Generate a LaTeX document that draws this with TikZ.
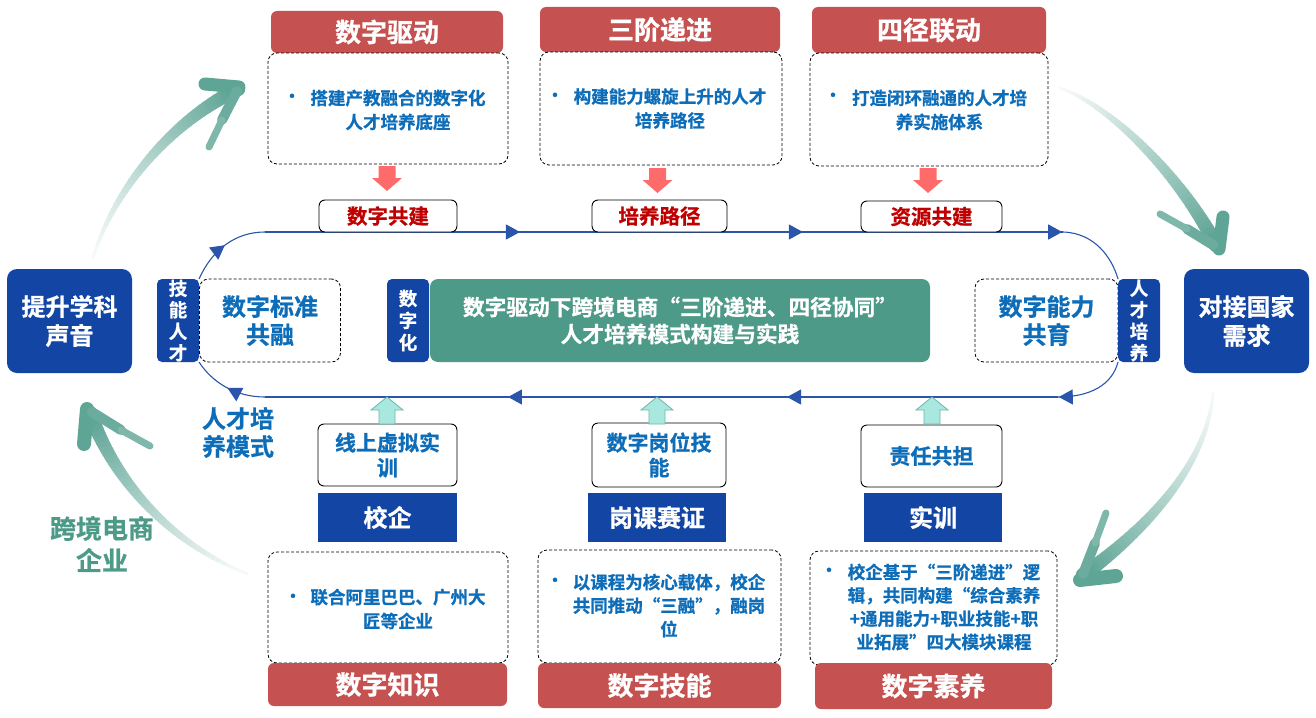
\documentclass[tikz,border=0pt]{standalone}
\usepackage{fontspec}
\setmainfont{Noto Sans CJK SC}[BoldFont={Noto Sans CJK SC Bold},BoldFeatures={FakeBold=0.8}]
\usetikzlibrary{arrows.meta,decorations.markings}
\definecolor{redh}{HTML}{C55250}
\definecolor{blueb}{HTML}{1346A4}
\definecolor{greenb}{HTML}{4E9A88}
\definecolor{txtblue}{HTML}{0E6DB8}
\definecolor{darkred}{HTML}{C00000}
\definecolor{salmon}{HTML}{FF6B6B}
\definecolor{cyanf}{HTML}{A8E8DE}
\definecolor{cyand}{HTML}{6DB7A6}
\definecolor{lineblue}{HTML}{2A55AA}
\definecolor{arrowg}{HTML}{5FA596}
\newcommand\gradshaft[4]{%
  \foreach \gi in {0,...,39}{%
    \pgfmathsetmacro\gta{\gi/40}%
    \pgfmathsetmacro\gtb{(\gi+1)/40}%
    \pgfmathsetmacro\gpc{6+94*(\gi/39)^1.3}%
    \pgfmathsetmacro\glw{2.5+12*\gi/39}%
    \path #1 .. controls #2 and #3 .. #4 coordinate[pos=\gta] (ga) coordinate[pos=\gtb] (gb);%
    \draw[line width=\glw pt, color=arrowg!\gpc!white, line cap=round] (ga) -- (gb);%
  }}
\tikzset{
  downarr/.pic={\fill[salmon] (-8.5,0) -- (8.5,0) -- (8.5,12) -- (15,12) -- (0,25) -- (-15,12) -- (-8.5,12) -- cycle;},
  uparr/.pic={\filldraw[fill=cyanf, draw=cyand, line width=0.8pt] (0,0) -- (16,13) -- (8,13) -- (8,27) -- (-8,27) -- (-8,13) -- (-16,13) -- cycle;}
}
\newcommand\ahd{\arrow[fill=lineblue]{Triangle[length=14pt,width=15pt]}}
\begin{document}
\begin{tikzpicture}[x=1pt,y=-1pt,
  every node/.style={inner sep=0pt, outer sep=0pt},
  header/.style={fill=redh, rounded corners=6pt, text=white, font=\bfseries\fontsize{26}{30}\selectfont},
  dbox/.style={draw=black, dash pattern=on 3pt off 2pt, rounded corners=9pt, line width=0.8pt},
  sbox/.style={draw=black, fill=white, rounded corners=6pt, line width=0.9pt},
  btext/.style={text=txtblue, font=\bfseries\fontsize{17.5}{24}\selectfont, align=center},
  bul/.style={text=txtblue, font=\bfseries\fontsize{17}{17}\selectfont},
  redlbl/.style={text=darkred, font=\bfseries\fontsize{20.5}{24}\selectfont},
  bluelbl/.style={text=txtblue, font=\bfseries\fontsize{21}{25}\selectfont, align=center},
  vbox/.style={fill=blueb, rounded corners=5pt, text=white, minimum width=42, minimum height=83, align=center, font=\bfseries\fontsize{18.5}{21.5}\selectfont},
  bigbox/.style={fill=blueb, rounded corners=10pt, text=white, minimum width=125, minimum height=104, align=center, font=\bfseries\fontsize{24}{29}\selectfont},
  brect/.style={fill=blueb, text=white, minimum width=139, minimum height=49, font=\bfseries\fontsize{24}{28}\selectfont},
  midlbl/.style={text=txtblue, font=\bfseries\fontsize{24}{28}\selectfont, align=center},
  loop/.style={draw=lineblue, line width=1.1pt}
]
\useasboundingbox (0,0) rectangle (1316,717);

% ---- big gradient arrows ----
\gradshaft{(93,258)}{(112,195)}{(165,125)}{(238,89)}
\draw[line width=13pt, line cap=round, arrowg] (205,84) -- (239,87);
\draw[line width=10pt, line cap=round, arrowg!92!white] (237,91) -- (222,120);
\draw[line width=7pt, line cap=round, arrowg!80!white] (222,120) -- (209,147);

\gradshaft{(1060,88)}{(1110,105)}{(1180,175)}{(1216,245)}
\draw[line width=13pt, line cap=round, arrowg] (1223,217) -- (1219,249);
\draw[line width=10pt, line cap=round, arrowg!92!white] (1213,245) -- (1187,229);
\draw[line width=7pt, line cap=round, arrowg!80!white] (1187,229) -- (1160,214);

\gradshaft{(1213,392)}{(1208,465)}{(1145,530)}{(1083,575)}
\draw[line width=14pt, line cap=round, arrowg] (1080,580) -- (1116,576);
\draw[line width=10pt, line cap=round, arrowg!92!white] (1083,574) -- (1095,543);
\draw[line width=7pt, line cap=round, arrowg!80!white] (1095,543) -- (1106,513);

\gradshaft{(248,574)}{(180,548)}{(118,490)}{(90,413)}
\draw[line width=14pt, line cap=round, arrowg] (87,409) -- (84,444);
\draw[line width=10pt, line cap=round, arrowg!92!white] (92,412) -- (121,430);
\draw[line width=7pt, line cap=round, arrowg!80!white] (121,430) -- (150,446);

% ---- top row ----
\node[header, minimum width=232, minimum height=42] (h1) at (387,32) {数字驱动};
\node[dbox, minimum width=240, minimum height=111] (d1) at (388,108.5) {};
\node[btext] (t1) at (398,110) {搭建产教融合的数字化\\人才培养底座};
\node[bul] (u1) at (292,98) {•};

\node[header, minimum width=240, minimum height=45] (h2) at (660,29.5) {三阶递进};
\node[dbox, minimum width=242, minimum height=113] (d2) at (661,108.5) {};
\node[btext] (t2) at (670,108.5) {构建能力螺旋上升的人才\\培养路径};
\node[bul] (u2) at (555,97) {•};

\node[header, minimum width=234, minimum height=46] (h3) at (929,30) {四径联动};
\node[dbox, minimum width=238, minimum height=113] (d3) at (929,109.5) {};
\node[btext] (t3) at (939.5,110) {打造闭环融通的人才培\\养实施体系};
\node[bul] (u3) at (833,97) {•};

% ---- middle row ----
\node[dbox, minimum width=141, minimum height=83, midlbl] (dsb) at (270,320.5) {数字标准\\共融};
\node[dbox, minimum width=143, minimum height=83, midlbl] (dnl) at (1046.5,320.5) {数字能力\\共育};
\node[vbox] (jn) at (178,320.5) {技\\能\\人\\才};
\node[vbox] (rc) at (1139,320.5) {人\\才\\培\\养};
\node[vbox, font=\bfseries\fontsize{18.5}{22}\selectfont] (szh) at (408,320.5) {数\\字\\化};
\node[fill=greenb, rounded corners=8pt, minimum width=500, minimum height=83, text=white, align=center,
      font=\bfseries\fontsize{21.7}{27}\selectfont] (main) at (680,320.5)
      {数字驱动下跨境电商“三阶递进、四径协同”\\人才培养模式构建与实践};
\node[bigbox] (tsx) at (69.5,321) {提升学科\\声音};
\node[bigbox] (djg) at (1246.5,321) {对接国家\\需求};

% ---- loop connectors ----
\coordinate (tl) at (265,232);
\coordinate (tr) at (1063,232);
\coordinate (br) at (1058,397);
\coordinate (bl) at (265,397);

\draw[loop, postaction={decorate}, decoration={markings, mark=at position 0.5 with {\ahd}}]
  (jn.north east) .. controls (212,250) and (235,232) .. (tl);
\draw[loop, postaction={decorate}, decoration={markings,
   mark=at position 0.3195 with {\ahd},
   mark=at position 0.674 with {\ahd},
   mark=at position 0.999 with {\ahd}}]
  (tl) -- (tr);
\draw[loop] (tr) .. controls (1095,233) and (1112,258) .. (rc.north west);
\draw[loop, postaction={decorate}, decoration={markings, mark=at position 0.99 with {\ahd}}]
  (rc.south west) .. controls (1112,385) and (1090,397) .. (br);
\draw[loop, postaction={decorate}, decoration={markings,
   mark=at position 0.3417 with {\ahd},
   mark=at position 0.6936 with {\ahd}}]
  (br) -- (bl);
\draw[loop, postaction={decorate}, decoration={markings, mark=at position 0.5 with {\ahd}}]
  (bl) .. controls (235,397) and (212,382) .. (jn.south east);

% ---- top small boxes ----
\node[sbox, minimum width=138, minimum height=32, redlbl] (s1) at (388,216) {数字共建};
\node[sbox, minimum width=135, minimum height=32, redlbl] (s2) at (659.5,216) {培养路径};
\node[sbox, minimum width=141, minimum height=31, redlbl] (s3) at (931.5,216.5) {资源共建};
\path (s1.north) ++(-1,-34) pic {downarr};
\path (s2.north) ++(-2,-32) pic {downarr};
\path (s3.north) ++(-3.5,-33) pic {downarr};

\node[midlbl] (rpm) at (238,432.5) {人才培\\养模式};
\node[text=greenb, font=\bfseries\fontsize{26}{32}\selectfont, align=center] (kjd) at (102,544) {跨境电商\\企业};

% ---- bottom row ----
\node[sbox, minimum width=139, minimum height=62, bluelbl] (xs) at (387.5,455) {线上虚拟实\\训};
\node[sbox, minimum width=134, minimum height=64, bluelbl] (sg) at (659,455) {数字岗位技\\能};
\node[sbox, minimum width=141, minimum height=62, bluelbl] (zr) at (931.5,456) {责任共担};
\path (xs.north) ++(-0.5,-27) pic {uparr};
\path (sg.north) ++(-2,-26) pic {uparr};
\path (zr.north) ++(0.5,-28) pic {uparr};

\node[brect] (xq) at (387.5,517.5) {校企};
\node[brect, minimum width=138] (gkz) at (657,517.5) {岗课赛证};
\node[brect, minimum width=138] (sx) at (933,517.5) {实训};

\node[dbox, minimum width=240, minimum height=111] (d4) at (388,607.5) {};
\node[btext] (t4) at (398,609) {联合阿里巴巴、广州大\\匠等企业};
\node[bul] (u4) at (293,598) {•};

\node[dbox, minimum width=243, minimum height=113] (d5) at (659.5,606.5) {};
\node[btext, font=\bfseries\fontsize{17.5}{23.5}\selectfont] (t5) at (669,605.5) {以课程为核心载体，校企\\共同推动“三融”，融岗\\位};
\node[bul] (u5) at (555,582) {•};

\node[dbox, minimum width=247, minimum height=114] (d6) at (933.5,608) {};
\node[btext, font=\bfseries\fontsize{17.5}{23.3}\selectfont] (t6) at (944,607) {校企基于“三阶递进”逻\\辑，共同构建“综合素养\\+通用能力+职业技能+职\\业拓展”四大模块课程};
\node[bul] (u6) at (829,572) {•};

\node[header, minimum width=239, minimum height=43] (f1) at (387.5,684.5) {数字知识};
\node[header, minimum width=243, minimum height=45] (f2) at (659.5,685.5) {数字技能};
\node[header, minimum width=237, minimum height=46] (f3) at (933.5,686) {数字素养};
\end{tikzpicture}
\end{document}
